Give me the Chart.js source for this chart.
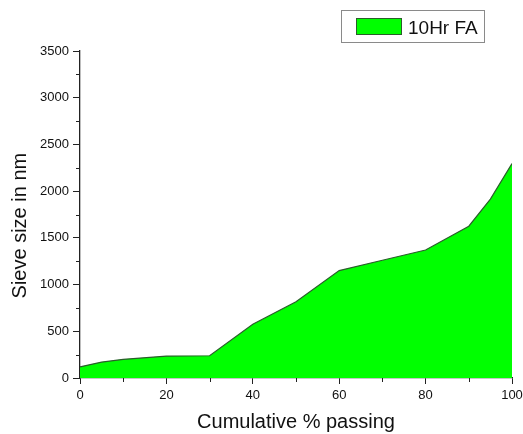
<!DOCTYPE html>
<html>
<head>
<meta charset="utf-8">
<script src="https://cdn.jsdelivr.net/npm/chart.js@4"></script>
<style>
  html, body { margin: 0; padding: 0; background: #fff; }
  #wrap { width: 523px; height: 434px; }
</style>
</head>
<body>
<div id="wrap"><canvas id="sieveChart" width="523" height="434"></canvas></div>
<script>
// data
const passing = [0, 5, 10, 20, 30, 40, 50, 60, 70, 80, 90, 95, 100];
const sieveSize = [120, 170, 200, 235, 238, 575, 815, 1150, 1260, 1370, 1625, 1915, 2295];
const seriesLabel = '10Hr FA';

const axisColor = '#222';
const fontFamily = '"Liberation Sans", Arial, sans-serif';

// short minor ticks half way between the labelled ones
const minorTicks = {
    id: 'minorTicks',
    afterDraw(chart) {
        const { ctx, scales: { x, y } } = chart;
        ctx.save();
        ctx.strokeStyle = axisColor;
        ctx.lineWidth = 1;
        ctx.beginPath();
        for (let v = 250; v < 3500; v += 500) {
            const py = Math.round(y.getPixelForValue(v)) + 0.5;
            ctx.moveTo(y.right - 4, py);
            ctx.lineTo(y.right, py);
        }
        for (let v = 10; v < 100; v += 20) {
            const px = Math.round(x.getPixelForValue(v)) + 0.5;
            ctx.moveTo(px, x.top);
            ctx.lineTo(px, x.top + 4);
        }
        ctx.stroke();
        ctx.restore();
    }
};

// boxed legend in the top right corner
const boxLegend = {
    id: 'boxLegend',
    afterDraw(chart) {
        const ctx = chart.ctx;
        const ds = chart.data.datasets[0];
        ctx.save();
        ctx.strokeStyle = '#8a8a8a';
        ctx.lineWidth = 1;
        ctx.strokeRect(341.5, 10.5, 143, 32);
        ctx.fillStyle = ds.backgroundColor;
        ctx.fillRect(356, 18, 46, 17);
        ctx.strokeStyle = ds.borderColor;
        ctx.strokeRect(356.5, 18.5, 45, 16);
        ctx.fillStyle = '#111';
        ctx.font = '19px ' + fontFamily;
        ctx.textBaseline = 'alphabetic';
        ctx.fillText(ds.label, 408, 34);
        ctx.restore();
    }
};

const ctx = document.getElementById('sieveChart').getContext('2d');
new Chart(ctx, {
    type: 'line',
    data: {
        datasets: [{
            label: seriesLabel,
            data: passing.map((p, i) => ({ x: p, y: sieveSize[i] })),
            fill: 'origin',
            backgroundColor: '#00ff00',
            borderColor: '#2a5e2a',
            borderWidth: 1.2,
            pointRadius: 0,
            tension: 0
        }]
    },
    options: {
        responsive: false,
        animation: false,
        devicePixelRatio: 1,
        layout: { padding: { top: 51, right: 11, left: 0, bottom: 0 } },
        plugins: {
            legend: { display: false },
            tooltip: { enabled: false }
        },
        scales: {
            x: {
                type: 'linear',
                min: 0,
                max: 100,
                afterFit: s => { s.height = 56; s.paddingLeft = 0; s.paddingRight = 0; },
                ticks: {
                    stepSize: 20,
                    color: '#111',
                    padding: 4,
                    maxRotation: 0,
                    font: { family: fontFamily, size: 13 }
                },
                grid: { drawOnChartArea: false, tickLength: 6, tickColor: axisColor, tickWidth: 1 },
                border: { display: true, color: axisColor, width: 1.3 },
                title: {
                    display: true,
                    text: 'Cumulative % passing',
                    color: '#111',
                    padding: { top: 0, bottom: 0 },
                    font: { family: fontFamily, size: 20 }
                }
            },
            y: {
                min: 0,
                max: 3500,
                afterFit: s => { s.width = 80; s.paddingTop = 0; s.paddingBottom = 0; },
                ticks: {
                    stepSize: 500,
                    color: '#111',
                    padding: 4,
                    callback: v => String(v),
                    font: { family: fontFamily, size: 13 }
                },
                grid: { drawOnChartArea: false, tickLength: 7, tickColor: axisColor, tickWidth: 1 },
                border: { display: true, color: axisColor, width: 1.3 },
                title: {
                    display: true,
                    text: 'Sieve size in nm    ',
                    color: '#111',
                    padding: { top: 8, bottom: 0 },
                    font: { family: fontFamily, size: 20 }
                }
            }
        }
    },
    plugins: [minorTicks, boxLegend]
});
</script>
</body>
</html>
